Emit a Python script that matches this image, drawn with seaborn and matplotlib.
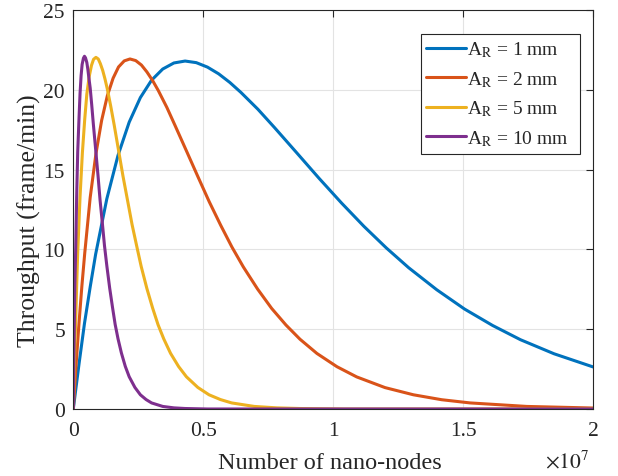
import numpy as np
import pandas as pd
import matplotlib
matplotlib.use("Agg")
import matplotlib.pyplot as plt
from matplotlib.ticker import FuncFormatter
import seaborn as sns

# values (x in units of 1e7 nano-nodes, y in frame/min)
x_1mm = [0, 0.022, 0.043, 0.065, 0.086, 0.129, 0.172, 0.215, 0.258, 0.301, 0.344,
         0.387, 0.43, 0.473, 0.516, 0.559, 0.602, 0.645, 0.71, 0.774, 0.86, 0.946,
         1.032, 1.118, 1.204, 1.29, 1.398, 1.505, 1.613, 1.72, 1.849, 2.0]
y_1mm = [0, 2.82, 5.36, 7.65, 9.70, 13.17, 15.89, 17.97, 19.51, 20.60, 21.30,
         21.68, 21.80, 21.70, 21.42, 21.00, 20.46, 19.83, 18.78, 17.63, 16.04, 14.44,
         12.90, 11.44, 10.09, 8.85, 7.47, 6.26, 5.23, 4.34, 3.46, 2.63]

x_2mm = [0, 0.011, 0.022, 0.033, 0.044, 0.065, 0.087, 0.109, 0.131, 0.153, 0.174,
         0.196, 0.218, 0.240, 0.262, 0.283, 0.305, 0.327, 0.360, 0.392, 0.436, 0.480,
         0.523, 0.567, 0.610, 0.654, 0.709, 0.763, 0.818, 0.872, 0.937, 1.014, 1.09,
         1.199, 1.308, 1.417, 1.526, 1.744, 2.0]
y_2mm = [0, 2.84, 5.39, 7.70, 9.76, 13.25, 15.98, 18.08, 19.63, 20.72, 21.43,
         21.81, 21.93, 21.83, 21.55, 21.12, 20.58, 19.95, 18.89, 17.74, 16.14, 14.53,
         12.98, 11.51, 10.15, 8.90, 7.51, 6.30, 5.26, 4.37, 3.48, 2.65, 2.01,
         1.34, 0.89, 0.58, 0.38, 0.16, 0.06]

x_5mm = [0, 0.004, 0.009, 0.013, 0.017, 0.026, 0.035, 0.044, 0.052, 0.061, 0.070,
         0.078, 0.087, 0.096, 0.104, 0.113, 0.122, 0.131, 0.144, 0.157, 0.174, 0.191,
         0.209, 0.226, 0.244, 0.261, 0.283, 0.305, 0.326, 0.348, 0.374, 0.405, 0.435,
         0.479, 0.522, 0.566, 0.609, 0.696, 0.783, 0.87, 1.044, 1.5, 2.0]
y_5mm = [0, 2.85, 5.42, 7.73, 9.81, 13.31, 16.06, 18.16, 19.72, 20.82, 21.53,
         21.91, 22.03, 21.93, 21.64, 21.22, 20.67, 20.04, 18.97, 17.82, 16.21, 14.60,
         13.04, 11.56, 10.20, 8.94, 7.55, 6.33, 5.28, 4.39, 3.49, 2.66, 2.02,
         1.35, 0.89, 0.59, 0.38, 0.16, 0.07, 0.03, 0.0, 0.0, 0.0]

x_10mm = [0, 0.002, 0.004, 0.006, 0.009, 0.013, 0.017, 0.022, 0.026, 0.030, 0.034,
          0.039, 0.043, 0.047, 0.052, 0.056, 0.060, 0.065, 0.071, 0.077, 0.086, 0.095,
          0.103, 0.112, 0.120, 0.129, 0.140, 0.151, 0.161, 0.172, 0.185, 0.2, 0.215,
          0.237, 0.258, 0.280, 0.301, 0.344, 0.387, 0.43, 0.516, 1.0, 2.0]
y_10mm = [0, 2.86, 5.44, 7.75, 9.84, 13.35, 16.11, 18.22, 19.78, 20.88, 21.59,
          21.98, 22.10, 22.00, 21.71, 21.28, 20.74, 20.11, 19.03, 17.87, 16.26, 14.64,
          13.08, 11.60, 10.23, 8.97, 7.57, 6.35, 5.30, 4.40, 3.51, 2.67, 2.02,
          1.35, 0.89, 0.59, 0.38, 0.16, 0.07, 0.03, 0.0, 0.0, 0.0]

labels = [r"A$_{\mathrm{R}}$ = 1 mm   ", r"A$_{\mathrm{R}}$ = 2 mm   ",
          r"A$_{\mathrm{R}}$ = 5 mm   ", r"A$_{\mathrm{R}}$ = 10 mm  "]
colors = ["#0072BD", "#D95319", "#EDB120", "#7E2F8E"]

frames = []
for lab, xs, ys in zip(labels, [x_1mm, x_2mm, x_5mm, x_10mm],
                       [y_1mm, y_2mm, y_5mm, y_10mm]):
    frames.append(pd.DataFrame({"nodes": xs, "thr": ys, "series": lab}))
df = pd.concat(frames, ignore_index=True)

sns.set_style("whitegrid")
plt.rcParams["font.family"] = ["Liberation Serif", "DejaVu Serif"]
plt.rcParams["mathtext.fontset"] = "stix"

fig = plt.figure(figsize=(6.18, 4.77), dpi=100)
ax = fig.add_axes([0.1186, 0.1405, 0.8414, 0.8365])

sns.lineplot(data=df, x="nodes", y="thr", hue="series", hue_order=labels,
             palette=colors, estimator=None, sort=True, linewidth=2.2, ax=ax)

ax.set_xlim(0, 2)
ax.set_ylim(0, 25)
ax.set_xticks([0, 0.5, 1, 1.5, 2])
ax.set_yticks([0, 5, 10, 15, 20, 25])
ax.xaxis.set_major_formatter(FuncFormatter(lambda v, p: "%g" % v))
ax.grid(True, color="#e3e3e3", linewidth=0.8)
for s in ax.spines.values():
    s.set_color("#262626")
    s.set_linewidth(0.8)
ax.tick_params(direction="in", length=5, width=0.8, top=True, right=True,
               labelsize=15.5, colors="#262626")
ax.tick_params(axis="x", pad=9)
ax.tick_params(axis="y", pad=6)
ax.set_xlabel("Number of nano-nodes", fontsize=17.5)
ax.set_ylabel("Throughput (frame/min)", fontsize=18.5)
ax.xaxis.set_label_coords(0.494, -0.108)
ax.yaxis.set_label_coords(-0.063, 0.474)

fig.text(0.953, 0.008, r"$\times10^{7}$", fontsize=15.5, ha="right", va="bottom",
         color="#262626")

leg = ax.legend(loc="upper right", bbox_to_anchor=(0.974, 0.94), fontsize=14,
                frameon=True, fancybox=False, framealpha=1, edgecolor="#262626",
                handlelength=2.05, handletextpad=0.05, labelspacing=0.5,
                borderpad=0.3, borderaxespad=0)
leg.get_frame().set_linewidth(0.8)

fig.savefig("out.png", dpi=100)
